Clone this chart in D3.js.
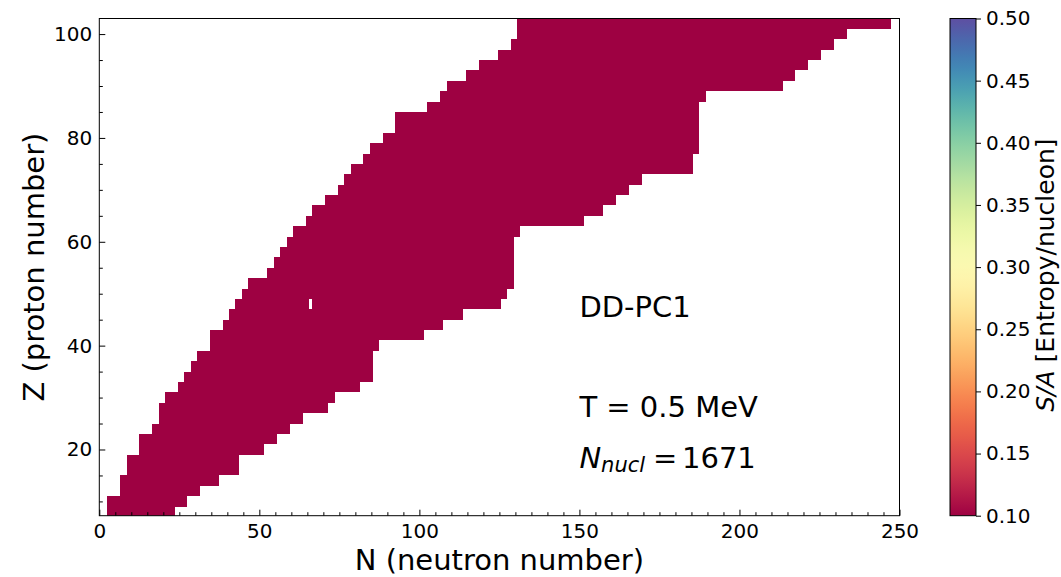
<!DOCTYPE html>
<html><head><meta charset="utf-8">
<script src="https://cdn.jsdelivr.net/npm/d3@7"></script>
<style>
body{margin:0;background:#fff;}
svg{display:block;font-family:"DejaVu Sans",sans-serif;}
</style>
</head><body>
<svg id="chart" width="1061" height="577"></svg>
<script>
// ---- data ----
// proton number of each row (even Z, each row spans Z-1 .. Z+1)
const protonZ = [8,10,12,14,16,18,20,22,24,26,28,30,32,34,36,38,40,42,44,46,48,50,52,54,
                 56,58,60,62,64,66,68,70,72,74,76,78,80,82,84,86,88,90,92,94,96,98,100,102];
// smallest and largest neutron number present in each row
const neutronMin = [3,3,7,7,9,9,13,13,17,19,19,21,25,27,29,31,35,35,39,41,43,45,47,53,
                    55,57,59,61,65,67,71,75,77,79,83,85,89,93,93,103,107,109,115,119,125,129,131,131];
const neutronMax = [23,27,31,37,43,43,51,55,59,63,71,73,81,85,85,85,87,101,107,113,125,127,129,129,
                    129,129,129,131,151,157,161,165,169,185,185,187,187,187,187,187,189,213,217,221,225,229,233,247];
// missing nuclei inside the band
const holeZ = [48];
const holeN = [66];
// entropy per nucleon of the nuclei (all at the bottom of the colour range)
const entropyPerNucleon = 0.10;

const xTickValues = [0,50,100,150,200,250];
const yTickValues = [20,40,60,80,100];
const cbTickValues = [0.10,0.15,0.20,0.25,0.30,0.35,0.40,0.45,0.50];
const xDomain = [0,250];
const yDomain = [7.25,103];
const cbDomain = [0.10,0.50];

// ---- layout ----
const L = 99.3, R = 899.5, T = 18.5, B = 515.7;
const svg = d3.select("#chart");
const x = d3.scaleLinear().domain(xDomain).range([L,R]);
const y = d3.scaleLinear().domain(yDomain).range([B,T]);
const color = d3.scaleSequential(d3.interpolateSpectral).domain(cbDomain);

svg.append("defs").append("clipPath").attr("id","plotclip")
  .append("rect").attr("x",L).attr("y",T).attr("width",R-L).attr("height",B-T);

// build row segments (split at holes)
const segments = [];
protonZ.forEach((z,i)=>{
  const holes = holeN.filter((n,j)=>holeZ[j]===z).sort((a,b)=>a-b);
  let start = neutronMin[i];
  holes.forEach(h=>{
    if (h-1 >= start) segments.push({z, n0:start, n1:h-1});
    start = h+1;
  });
  if (neutronMax[i] >= start) segments.push({z, n0:start, n1:neutronMax[i]});
});

svg.append("g").attr("clip-path","url(#plotclip)")
  .selectAll("rect").data(segments).join("rect")
  .attr("x",d=>x(d.n0-0.5))
  .attr("width",d=>x(d.n1+0.5)-x(d.n0-0.5))
  .attr("y",d=>y(d.z+1))
  .attr("height",d=>y(d.z-1)-y(d.z+1))
  .attr("fill",color(entropyPerNucleon))
  .attr("shape-rendering","crispEdges");

// axes
const fontTick = 20;
function styleAxis(g){
  g.select(".domain").remove();
  g.selectAll(".tick line").attr("stroke","#000").attr("stroke-width",1);
  g.selectAll("text").attr("font-size",fontTick).attr("font-family","DejaVu Sans").attr("fill","#000");
}
const xMinor = d3.range(0,251,5).filter(v=>!xTickValues.includes(v));
const yMinor = d3.range(10,103,5).filter(v=>!yTickValues.includes(v));

svg.append("g").attr("transform",`translate(0,${B})`)
  .call(d3.axisBottom(x).tickValues(xMinor).tickSize(-3.5).tickFormat(""))
  .call(styleAxis);
svg.append("g").attr("transform",`translate(0,${B})`)
  .call(d3.axisBottom(x).tickValues(xTickValues).tickSize(-6).tickPadding(8).tickFormat(d3.format("d")))
  .call(styleAxis);
svg.append("g").attr("transform",`translate(${L},0)`)
  .call(d3.axisLeft(y).tickValues(yMinor).tickSize(-3.5).tickFormat(""))
  .call(styleAxis);
svg.append("g").attr("transform",`translate(${L},0)`)
  .call(d3.axisLeft(y).tickValues(yTickValues).tickSize(-6).tickPadding(7).tickFormat(d3.format("d")))
  .call(styleAxis);

// frame
svg.append("rect").attr("x",L).attr("y",T).attr("width",R-L).attr("height",B-T)
  .attr("fill","none").attr("stroke","#000").attr("stroke-width",1);

// axis labels
svg.append("text").attr("x",(L+R)/2).attr("y",570).attr("text-anchor","middle")
  .attr("font-size",29).text("N (neutron number)");
svg.append("text").attr("transform",`translate(43.5,${(T+B)/2}) rotate(-90)`)
  .attr("text-anchor","middle").attr("font-size",29).text("Z (proton number)");

// annotations
const ax = x(150);
svg.append("text").attr("x",ax).attr("y",317).attr("font-size",29).text("DD-PC1");
svg.append("text").attr("x",ax).attr("y",417).attr("font-size",29).text("T = 0.5 MeV");
const nt = svg.append("text").attr("x",ax).attr("y",468).attr("font-size",29);
nt.append("tspan").attr("font-style","italic").text("N");
nt.append("tspan").attr("font-style","italic").attr("font-size",21).attr("dy",4).text("nucl");
nt.append("tspan").attr("x",653).attr("dy",-4).text("=");
nt.append("tspan").attr("x",682).text("1671");

// colorbar
const cbX = 950, cbW = 26;
const cy = d3.scaleLinear().domain(cbDomain).range([B,T]);
const grad = svg.select("defs").append("linearGradient").attr("id","cbgrad")
  .attr("x1",0).attr("y1",1).attr("x2",0).attr("y2",0);
d3.range(0,1.0001,0.02).forEach(t=>{
  grad.append("stop").attr("offset",t).attr("stop-color",d3.interpolateSpectral(t));
});
svg.append("rect").attr("x",cbX).attr("y",T).attr("width",cbW).attr("height",B-T)
  .attr("fill","url(#cbgrad)").attr("stroke","#000").attr("stroke-width",1);
svg.append("g").attr("transform",`translate(${cbX+cbW},0)`)
  .call(d3.axisRight(cy).tickValues(cbTickValues).tickSize(5).tickPadding(5).tickFormat(d3.format(".2f")))
  .call(styleAxis);
const cbl = svg.append("text").attr("transform",`translate(1054,${(T+B)/2 + 8}) rotate(-90)`)
  .attr("text-anchor","middle").attr("font-size",25);
cbl.append("tspan").attr("font-style","italic").text("S/A");
cbl.append("tspan").text(" [Entropy/nucleon]");
</script>
</body></html>
